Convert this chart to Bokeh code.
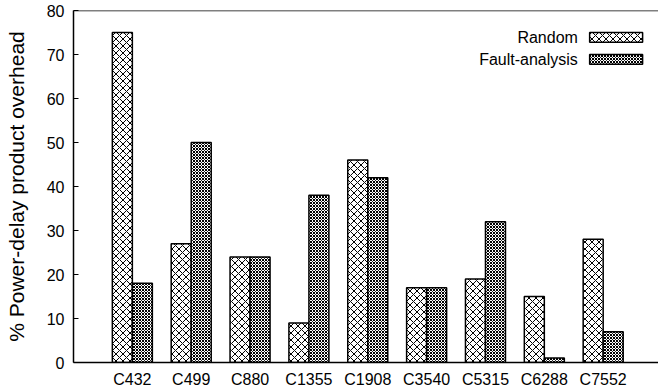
from bokeh.plotting import figure
from bokeh.models import Range1d, FixedTicker, Span, Label
from bokeh.embed import file_html
from bokeh.resources import INLINE

categories = ["C432", "C499", "C880", "C1355", "C1908", "C3540", "C5315", "C6288", "C7552"]
random_vals = [75, 27, 24, 9, 46, 17, 19, 15, 28]
fault_vals = [18, 50, 24, 38, 42, 17, 32, 1, 7]
series_names = ["Random", "Fault-analysis"]
y_ticks = [0, 10, 20, 30, 40, 50, 60, 70, 80]

FONT = "Liberation Sans"
BW = 0.34

p = figure(width=658, height=392, x_range=Range1d(0, 9.94), y_range=Range1d(0, 80),
           output_backend="svg", toolbar_location=None,
           min_border_top=10, min_border_right=0, min_border_bottom=30, min_border_left=73)
p.grid.visible = False
p.outline_line_color = None
p.background_fill_color = "white"
p.border_fill_color = "white"

xs = list(range(1, len(categories) + 1))
x_r = [x - BW / 2 for x in xs]
x_f = [x + BW / 2 for x in xs]

p.vbar(x=x_r, top=random_vals, width=BW, bottom=0, fill_color="white",
       line_color="black", line_width=1.5, hatch_pattern="diagonal_cross",
       hatch_scale=7, hatch_color="black", hatch_weight=1)
p.vbar(x=x_f, top=fault_vals, width=BW, bottom=0, fill_color="white",
       line_color="black", line_width=1.5, hatch_pattern="diagonal_cross",
       hatch_scale=3, hatch_color="black", hatch_weight=1)

# x axis
xa = p.xaxis[0]
xa.ticker = FixedTicker(ticks=xs)
xa.major_label_overrides = {x: c for x, c in zip(xs, categories)}
xa.major_tick_line_color = None
xa.major_tick_out = 0
xa.major_tick_in = 0
xa.minor_tick_line_color = None
xa.axis_line_color = "black"
xa.axis_line_width = 1.5
xa.major_label_text_font = FONT
xa.major_label_text_font_size = "16px"
xa.major_label_text_color = "black"
xa.major_label_standoff = 8
xa.axis_label = None
xa.axis_label_standoff = 0

# y axis
ya = p.yaxis[0]
ya.ticker = FixedTicker(ticks=y_ticks)
ya.major_tick_in = 5
ya.major_tick_out = 0
ya.major_tick_line_color = "black"
ya.minor_tick_line_color = None
ya.axis_line_color = "black"
ya.axis_line_width = 1.5
ya.major_label_text_font = FONT
ya.major_label_text_font_size = "16px"
ya.major_label_text_color = "black"
ya.major_label_standoff = 9
ya.axis_label = "% Power-delay product overhead"
ya.axis_label_text_font = FONT
ya.axis_label_text_font_size = "21px"
ya.axis_label_text_font_style = "normal"
ya.axis_label_text_color = "black"
ya.axis_label_standoff = 16

# top border
p.add_layout(Span(location=80, dimension="width", line_color="black", line_width=1.5))

# manual legend (label left, swatch right)
leg_text_x = 8.57
sw_left, sw_right = 8.77, 9.67
leg_y = [73.9, 68.9]
sw_half = 1.1
scales = [7, 3]
for name, yy, sc in zip(series_names, leg_y, scales):
    p.add_layout(Label(x=leg_text_x, y=yy, text=name, text_font=FONT, text_font_size="16px",
                       text_align="right", text_baseline="middle", text_color="black"))
    p.quad(left=[sw_left], right=[sw_right], bottom=[yy - sw_half], top=[yy + sw_half],
           fill_color="white", line_color="black", line_width=1.5,
           hatch_pattern="diagonal_cross", hatch_scale=sc, hatch_color="black", hatch_weight=1)

open("out.html", "w").write(file_html(p, INLINE))
